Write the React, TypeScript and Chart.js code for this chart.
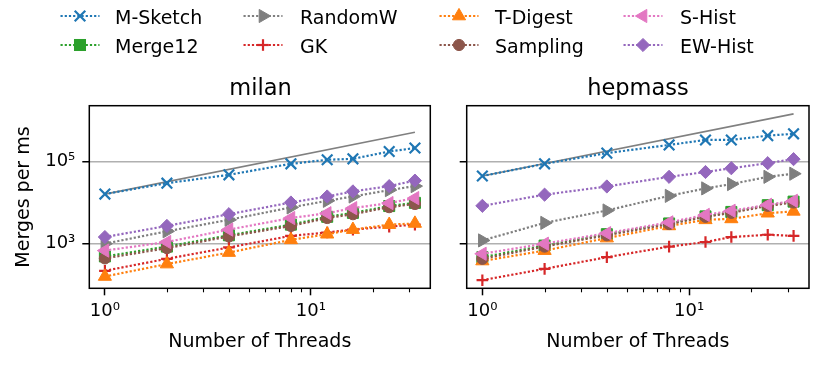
import React, { useEffect, useRef } from 'react';
import { Chart, registerables } from 'chart.js';

Chart.register(...registerables);

// ---------- data ----------
const THREADS = [1, 2, 4, 8, 12, 16, 24, 32];
const IDEAL_X = [1, 32];

const SERIES_NAMES = ['M-Sketch', 'Merge12', 'RandomW', 'GK', 'T-Digest', 'Sampling', 'S-Hist', 'EW-Hist'];
const SERIES_COLORS = ['#1f77b4', '#2ca02c', '#7f7f7f', '#d62728', '#ff7f0e', '#8c564b', '#e377c2', '#9467bd'];

// milan
const MILAN_MSKETCH = [1.6e4, 2.95e4, 4.7e4, 8.7e4, 1.09e5, 1.15e5, 1.73e5, 2.1e5];
const MILAN_MERGE12 = [490, 850, 1600, 2900, 4500, 5600, 8200, 9800];
const MILAN_RANDOMW = [1000, 2000, 3800, 7600, 1.1e4, 1.4e4, 2.0e4, 2.5e4];
const MILAN_GK = [220, 430, 810, 1550, 1870, 2200, 2600, 2900];
const MILAN_TDIGEST = [160, 320, 610, 1240, 1700, 2200, 2900, 3100];
const MILAN_SAMPLING = [440, 780, 1500, 2700, 4200, 5200, 7700, 9200];
const MILAN_SHIST = [680, 1100, 2200, 4200, 5500, 7300, 9700, 1.28e4];
const MILAN_EWHIST = [1450, 2700, 5200, 1.0e4, 1.4e4, 1.86e4, 2.5e4, 3.4e4];
const MILAN_IDEAL = [1.6e4, 5.1e5];

// hepmass
const HEP_MSKETCH = [4.4e4, 8.7e4, 1.58e5, 2.5e5, 3.3e5, 3.3e5, 4.2e5, 4.65e5];
const HEP_MERGE12 = [470, 900, 1700, 3100, 4600, 5900, 8600, 1.05e4];
const HEP_RANDOMW = [1200, 3200, 6400, 1.45e4, 2.2e4, 2.8e4, 4.2e4, 5.0e4];
const HEP_GK = [130, 245, 470, 850, 1100, 1450, 1650, 1550];
const HEP_TDIGEST = [380, 680, 1370, 2700, 3800, 4000, 5500, 6100];
const HEP_SAMPLING = [430, 850, 1600, 3000, 4500, 5600, 8300, 1.0e4];
const HEP_SHIST = [570, 1000, 1800, 3300, 5000, 6300, 8800, 1.1e4];
const HEP_EWHIST = [8300, 1.55e4, 2.45e4, 4.2e4, 5.5e4, 6.8e4, 9.0e4, 1.13e5];
const HEP_IDEAL = [4.4e4, 1.42e6];

const X_MAJOR = [1, 10];
const X_MINOR = [2, 3, 4, 5, 6, 7, 8, 9, 20, 30];
const Y_MAJOR = [1e3, 1e5];
const TICK_TEXT: Record<number, string> = { 1: '10⁰', 10: '10¹', 1000: '10³', 100000: '10⁵' };

const MILAN = [MILAN_MSKETCH, MILAN_MERGE12, MILAN_RANDOMW, MILAN_GK, MILAN_TDIGEST, MILAN_SAMPLING, MILAN_SHIST, MILAN_EWHIST];
const HEPMASS = [HEP_MSKETCH, HEP_MERGE12, HEP_RANDOMW, HEP_GK, HEP_TDIGEST, HEP_SAMPLING, HEP_SHIST, HEP_EWHIST];

// ---------- styles ----------
const FONT = "'DejaVu Sans', 'Liberation Sans', sans-serif";
const LINE_W = 2.2;
const DASH = [2.2, 2.0];
type Mk = { style: string; rotation: number; radius: number; bw: number };
const MARKERS: Mk[] = [
  { style: 'crossRot', rotation: 0, radius: 7.5, bw: 2.2 },
  { style: 'rect', rotation: 0, radius: 7.8, bw: 1 },
  { style: 'triangle', rotation: 90, radius: 7.6, bw: 1 },
  { style: 'cross', rotation: 0, radius: 5.8, bw: 2.2 },
  { style: 'triangle', rotation: 0, radius: 7.6, bw: 1 },
  { style: 'circle', rotation: 0, radius: 5.6, bw: 1 },
  { style: 'triangle', rotation: -90, radius: 7.6, bw: 1 },
  { style: 'rectRot', rotation: 0, radius: 6.6, bw: 1 },
];

const H = 365;
const PLOT_TOP = 105.7;
const PLOT_BOTTOM = 288.3;
const X_MIN = 0.84;
const X_MAX = 38;
const Y_MIN = 82.6;
const Y_MAX = 2.24e6;

const boxPlugin = {
  id: 'boxAndMinor',
  afterDatasetsDraw(chart: any) {
    const { ctx, chartArea } = chart;
    const { left, top, right, bottom } = chartArea;
    ctx.save();
    ctx.strokeStyle = '#000';
    ctx.lineWidth = 1.1;
    const xs = chart.scales.x;
    X_MINOR.forEach((v) => {
      const px = Math.round(xs.getPixelForValue(v)) + 0.5;
      ctx.beginPath();
      ctx.moveTo(px, bottom);
      ctx.lineTo(px, bottom + 4);
      ctx.stroke();
    });
    ctx.lineWidth = 1.5;
    ctx.strokeRect(left, top, right - left, bottom - top);
    ctx.restore();
  },
};

function Panel(props: { left: number; width: number; yWidth: number; padRight: number; values: number[][]; ideal: number[]; showYLabels: boolean }) {
  const ref = useRef<HTMLCanvasElement>(null);
  useEffect(() => {
    const datasets: any[] = props.values.map((vals, i) => ({
      label: SERIES_NAMES[i],
      data: THREADS.map((t, j) => ({ x: t, y: vals[j] })),
      borderColor: SERIES_COLORS[i],
      backgroundColor: SERIES_COLORS[i],
      borderWidth: LINE_W,
      borderDash: DASH,
      pointStyle: MARKERS[i].style,
      rotation: MARKERS[i].rotation,
      pointRadius: MARKERS[i].radius,
      pointBorderWidth: MARKERS[i].bw,
      pointBorderColor: SERIES_COLORS[i],
      pointBackgroundColor: SERIES_COLORS[i],
      fill: false,
      tension: 0,
      order: 8 - i,
      clip: false,
    }));
    datasets.push({
      label: 'ideal',
      data: IDEAL_X.map((t, j) => ({ x: t, y: props.ideal[j] })),
      borderColor: '#808080',
      borderWidth: 1.6,
      pointRadius: 0,
      fill: false,
      order: 100,
    });
    const chart = new Chart(ref.current as HTMLCanvasElement, {
      type: 'line',
      data: { datasets },
      plugins: [boxPlugin],
      options: {
        animation: false,
        responsive: false,
        events: [],
        layout: { padding: { top: PLOT_TOP, right: props.padRight, bottom: 0, left: 0 } },
        plugins: { legend: { display: false }, tooltip: { enabled: false }, title: { display: false } },
        scales: {
          x: {
            type: 'logarithmic',
            min: X_MIN,
            max: X_MAX,
            afterBuildTicks: (s: any) => {
              s.ticks = X_MAJOR.map((v) => ({ value: v, major: true }));
            },
            afterFit: (s: any) => {
              s.height = H - PLOT_BOTTOM;
            },
            grid: { drawOnChartArea: false, drawTicks: true, tickLength: 7, tickWidth: 1.5, tickColor: '#000' },
            border: { display: false },
            ticks: {
              autoSkip: false,
              maxRotation: 0,
              padding: 5,
              color: '#000',
              font: { family: FONT, size: 18 },
              callback: (v: any) => TICK_TEXT[v as number] ?? '',
            },
            title: {
              display: true,
              text: 'Number of Threads',
              color: '#000',
              font: { family: FONT, size: 19 },
              padding: { top: 0, bottom: 12 },
            },
          },
          y: {
            type: 'logarithmic',
            min: Y_MIN,
            max: Y_MAX,
            afterBuildTicks: (s: any) => {
              s.ticks = Y_MAJOR.map((v) => ({ value: v, major: true }));
            },
            afterFit: (s: any) => {
              s.width = props.yWidth;
            },
            grid: { drawOnChartArea: true, color: '#b0b0b0', lineWidth: 1.5, drawTicks: true, tickLength: 7, tickWidth: 1.5, tickColor: '#000' },
            border: { display: false },
            ticks: {
              autoSkip: false,
              padding: 7,
              color: '#000',
              font: { family: FONT, size: 18 },
              callback: (v: any) => (props.showYLabels ? TICK_TEXT[v as number] ?? '' : ''),
            },
            title: {
              display: props.showYLabels,
              text: 'Merges per ms',
              color: '#000',
              font: { family: FONT, size: 19 },
              padding: { top: 12.6, bottom: 0 },
            },
          },
        },
      } as any,
    });
    return () => chart.destroy();
  }, []);
  return (
    <canvas
      ref={ref}
      width={props.width}
      height={H}
      style={{ position: 'absolute', left: props.left, top: 0, width: props.width, height: H }}
    />
  );
}

function LegendMarker({ i, cx, cy }: { i: number; cx: number; cy: number }) {
  const c = SERIES_COLORS[i];
  const m = MARKERS[i];
  const line = <line x1={cx - 19.5} y1={cy} x2={cx + 19.5} y2={cy} stroke={c} strokeWidth={LINE_W} strokeDasharray={DASH.join(' ')} />;
  let shape: any = null;
  if (m.style === 'crossRot') {
    const d = m.radius * Math.SQRT1_2;
    shape = (
      <g stroke={c} strokeWidth={m.bw}>
        <line x1={cx - d} y1={cy - d} x2={cx + d} y2={cy + d} />
        <line x1={cx - d} y1={cy + d} x2={cx + d} y2={cy - d} />
      </g>
    );
  } else if (m.style === 'cross') {
    const d = m.radius;
    shape = (
      <g stroke={c} strokeWidth={m.bw}>
        <line x1={cx - d} y1={cy} x2={cx + d} y2={cy} />
        <line x1={cx} y1={cy - d} x2={cx} y2={cy + d} />
      </g>
    );
  } else if (m.style === 'rect') {
    const s = m.radius * Math.SQRT1_2;
    shape = <rect x={cx - s} y={cy - s} width={2 * s} height={2 * s} fill={c} stroke={c} strokeWidth={m.bw} />;
  } else if (m.style === 'circle') {
    shape = <circle cx={cx} cy={cy} r={m.radius} fill={c} stroke={c} strokeWidth={m.bw} />;
  } else if (m.style === 'rectRot') {
    const r = m.radius;
    shape = <polygon points={`${cx},${cy - r} ${cx + r},${cy} ${cx},${cy + r} ${cx - r},${cy}`} fill={c} stroke={c} strokeWidth={m.bw} />;
  } else if (m.style === 'triangle') {
    const r = m.radius;
    const pts = [0, 120, 240]
      .map((a) => {
        const rad = ((a + m.rotation) * Math.PI) / 180;
        return `${cx + Math.sin(rad) * r},${cy - Math.cos(rad) * r}`;
      })
      .join(' ');
    shape = <polygon points={pts} fill={c} stroke={c} strokeWidth={m.bw} />;
  }
  return (
    <g>
      {line}
      {shape}
    </g>
  );
}

const LEG_MARK_X = [80, 263, 459, 643];
const LEG_TEXT_X = [115, 300, 495, 680];
const LEG_MARK_Y = [16, 45];
const LEG_TEXT_Y = [24, 52.7];

function Overlay() {
  return (
    <svg width={830} height={100} style={{ position: 'absolute', left: 0, top: 0 }}>
      {SERIES_NAMES.map((name, i) => {
        const col = Math.floor(i / 2);
        const row = i % 2;
        return (
          <g key={name}>
            <LegendMarker i={i} cx={LEG_MARK_X[col]} cy={LEG_MARK_Y[row]} />
            <text x={LEG_TEXT_X[col]} y={LEG_TEXT_Y[row]} fontFamily={FONT} fontSize={19} fill="#000">
              {name}
            </text>
          </g>
        );
      })}
      <text x={260.5} y={95} textAnchor="middle" fontFamily={FONT} fontSize={22.5} fill="#000">
        milan
      </text>
      <text x={637.9} y={95} textAnchor="middle" fontFamily={FONT} fontSize={22.5} fill="#000">
        hepmass
      </text>
    </svg>
  );
}

export default function App() {
  return (
    <div style={{ position: 'fixed', left: 0, top: 0, width: 830, height: H, background: '#fff', overflow: 'hidden' }}>
      <Panel left={0} width={440} yWidth={89.3} padRight={8.3} values={MILAN} ideal={MILAN_IDEAL} showYLabels={true} />
      <Panel left={440} width={390} yWidth={26.7} padRight={21} values={HEPMASS} ideal={HEP_IDEAL} showYLabels={false} />
      <Overlay />
    </div>
  );
}
